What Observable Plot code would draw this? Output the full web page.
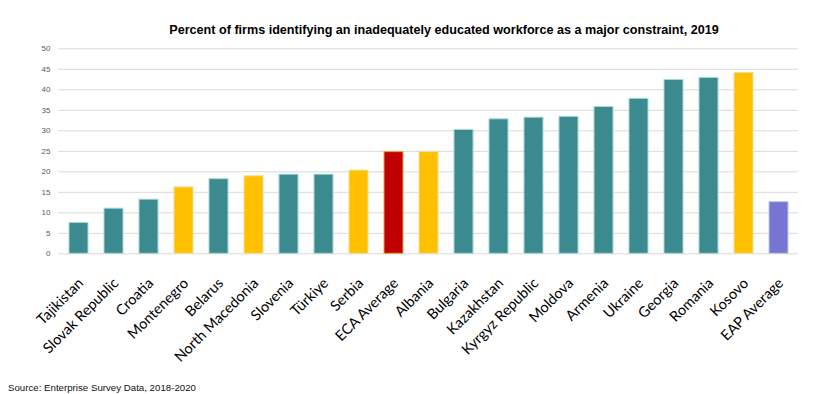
<!DOCTYPE html>
<html><head><meta charset="utf-8">
<script src="https://cdn.jsdelivr.net/npm/d3@7"></script>
<script src="https://cdn.jsdelivr.net/npm/@observablehq/plot@0.6"></script>
<style>
body{margin:0;background:#fff;width:814px;height:394px;position:relative;overflow:hidden}
#title{position:absolute;left:0;width:888px;top:23px;text-align:center;font:bold 12.6px "Liberation Sans",Arial,sans-serif;color:#000;line-height:14px}
#chart{position:absolute;left:0;top:40px}
#source{position:absolute;left:8px;top:382px;font:9.7px "Liberation Sans",Arial,sans-serif;color:#111;line-height:12px}
</style></head>
<body>
<div id="title">Percent of firms identifying an inadequately educated workforce as a major constraint, 2019</div>
<div id="chart"></div>
<div id="source">Source: Enterprise Survey Data, 2018-2020</div>
<script>
const countries = ["Tajikistan","Slovak Republic","Croatia","Montenegro","Belarus","North Macedonia","Slovenia","Türkiye","Serbia","ECA Average","Albania","Bulgaria","Kazakhstan","Kyrgyz Republic","Moldova","Armenia","Ukraine","Georgia","Romania","Kosovo","EAP Average"];
const values = [7.5,11.0,13.2,16.2,18.2,18.9,19.3,19.3,20.3,24.8,24.8,30.2,32.8,33.2,33.4,35.8,37.8,42.4,42.9,44.1,12.6];
const groups = ["other","other","other","highlight","other","highlight","other","other","highlight","eca","highlight","other","other","other","other","other","other","other","other","highlight","eap"];
const yTicks = [0,5,10,15,20,25,30,35,40,45,50];

const fillOf = {other:"#3b8a8f", highlight:"#ffc000", eca:"#c00000", eap:"#7676d2"};
const strokeOf = {other:"#aad8d8", highlight:"#f3dd9a", eca:"#f0a030", eap:"#c4c4f0"};
const data = countries.map((c,i)=>({country:c, value:values[i], group:groups[i]}));

const chart = Plot.plot({
  width: 814,
  height: 330,
  marginTop: 8.3,
  marginBottom: 116.7,
  marginLeft: 58,
  marginRight: 16,
  style: {background:"transparent"},
  x: {domain: countries, paddingInner: 0.46, paddingOuter: 0.23, label: null},
  y: {domain: [0,50], label: null},
  color: {type: "identity"},
  marks: [
    Plot.gridY(yTicks, {stroke:"#d9d9d9", strokeOpacity:1, strokeWidth:1}),
    Plot.barY(data, {x:"country", y:"value", fill:d=>fillOf[d.group], stroke:d=>strokeOf[d.group], strokeWidth:1, inset:0}),
    Plot.axisY(yTicks, {tickSize:0, tickPadding:8, fontSize:8, fill:"#595959", label:null, fontFamily:"Liberation Sans, Arial, sans-serif"}),
    Plot.axisX({tickSize:0, tickPadding:15, dy:12, dx:2, tickRotate:-45, fontSize:14.5, fill:"#000", label:null, fontFamily:"Lato, sans-serif"})
  ]
});
document.getElementById("chart").appendChild(chart);
</script>
</body></html>
